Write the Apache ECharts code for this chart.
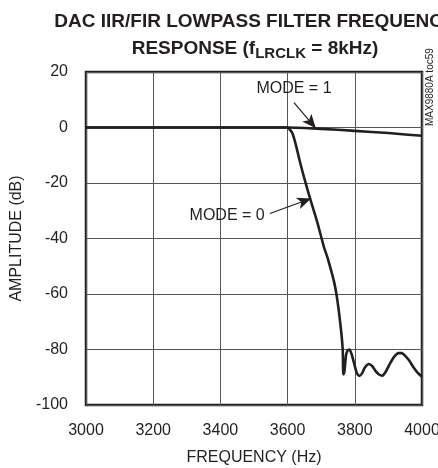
<!DOCTYPE html>
<html><head><meta charset="utf-8">
<script src="https://cdn.jsdelivr.net/npm/echarts@6/dist/echarts.min.js"></script>
<style>html,body{margin:0;padding:0;background:#fff}#c{width:438px;height:468px}</style>
</head><body><div id="c"></div>
<script>
const xTicks = [3000, 3200, 3400, 3600, 3800, 4000];
const yTicks = [-100, -80, -60, -40, -20, 0, 20];
const mode0Freq = [3000,3100,3200,3300,3400,3500,3580,3600,3605,3614,3624,3636,3649,3668,3688,3708,3719,3739,3749,3759,3764,3766,3769,3774,3778,3784,3790,3798,3806,3814,3822,3830,3842,3852,3862,3872,3882,3892,3905,3918,3930,3940,3950,3962,3975,3988,4000];
const mode0Amp  = [0,0,0,0,0,0,0,0,-0.5,-2,-6,-12,-18,-26,-34,-43,-47,-56,-63,-73,-80,-89,-88,-82,-80.5,-80,-81.5,-85,-88.5,-89.5,-88.5,-86.5,-85.2,-86,-87.8,-89,-89.4,-88,-85,-82.5,-81.3,-81.3,-82.3,-84,-86.5,-88.5,-89.8];
const mode1Freq = [3000,3200,3400,3600,3650,3700,3750,3800,3850,3900,3950,4000];
const mode1Amp  = [0,0,0,0,-0.2,-0.5,-0.8,-1.2,-1.6,-2.0,-2.5,-3.0];
const annotations = [
  {text: 'MODE = 1', at: [3619, 14], from: [3619, 9], to: [3684, -0.3]},
  {text: 'MODE = 0', at: [3420, -31.7], from: [3547, -31], to: [3670, -25.6]}
];
const FONT = '"Liberation Sans", Arial, sans-serif';
const zip = (a, b) => a.map((v, i) => [v, b[i]]);
const chart = echarts.init(document.getElementById('c'), null, {renderer: 'canvas'});
chart.setOption({
  animation: false,
  backgroundColor: '#fff',
  title: {
    text: 'DAC IIR/FIR LOWPASS FILTER FREQUENCY\n{b|RESPONSE (f}{s|LRCLK}{b| = 8kHz)}',
    left: 250, top: 3, textAlign: 'center',
    textStyle: {
      fontFamily: FONT, fontWeight: 'bold', fontSize: 19, color: '#231f20', lineHeight: 27,
      rich: {
        b: {fontFamily: FONT, fontWeight: 'bold', fontSize: 19, color: '#231f20'},
        s: {fontFamily: FONT, fontWeight: 'bold', fontSize: 15, color: '#231f20', padding: [10, 0, 0, 0]}
      }
    }
  },
  grid: {left: 86, right: 16, top: 72, bottom: 63, outerBoundsMode: 'none', containLabel: false,
         show: true, borderColor: '#231f20', borderWidth: 2.5, backgroundColor: 'transparent'},
  xAxis: {
    type: 'value', min: 3000, max: 4000, interval: 200,
    name: 'FREQUENCY (Hz)', nameLocation: 'middle', nameGap: 45,
    nameTextStyle: {fontFamily: FONT, fontSize: 16, color: '#231f20'},
    axisLine: {show: false}, axisTick: {show: false},
    axisLabel: {fontFamily: FONT, fontSize: 16, color: '#231f20', margin: 18, formatter: v => String(v)},
    splitLine: {show: true, lineStyle: {color: '#555', width: 1}}
  },
  yAxis: {
    type: 'value', min: -100, max: 20, interval: 20,
    name: 'AMPLITUDE (dB)', nameLocation: 'middle', nameGap: 57, nameRotate: 90,
    nameTextStyle: {fontFamily: FONT, fontSize: 16, color: '#231f20'},
    axisLine: {show: false}, axisTick: {show: false},
    axisLabel: {fontFamily: FONT, fontSize: 16, color: '#231f20', margin: 18, formatter: v => String(v)},
    splitLine: {show: true, lineStyle: {color: '#555', width: 1}}
  },
  series: [
    {
      type: 'line', data: zip(mode1Freq, mode1Amp), showSymbol: false, smooth: false,
      lineStyle: {color: '#231f20', width: 2.6}
    },
    {
      type: 'line', data: zip(mode0Freq, mode0Amp), showSymbol: false, smooth: 0.25,
      lineStyle: {color: '#231f20', width: 2.6},
      markLine: {
        silent: true, symbol: ['none', 'arrow'], symbolSize: [9, 14],
        lineStyle: {color: '#231f20', width: 1.2, type: 'solid'},
        label: {show: false},
        data: annotations.map(a => [{coord: a.from}, {coord: a.to}])
      },
      markPoint: {
        silent: true, symbol: 'circle', symbolSize: 0,
        label: {show: true, position: 'inside', fontFamily: FONT, fontSize: 16, color: '#231f20', formatter: p => p.name},
        data: annotations.map(a => ({name: a.text, coord: a.at}))
      }
    }
  ],
  graphic: [{
    type: 'text', x: 425, y: 126, rotation: Math.PI / 2,
    style: {text: 'MAX9880A toc59', font: '10px ' + FONT, fill: '#231f20'}
  }]
});
</script></body></html>
